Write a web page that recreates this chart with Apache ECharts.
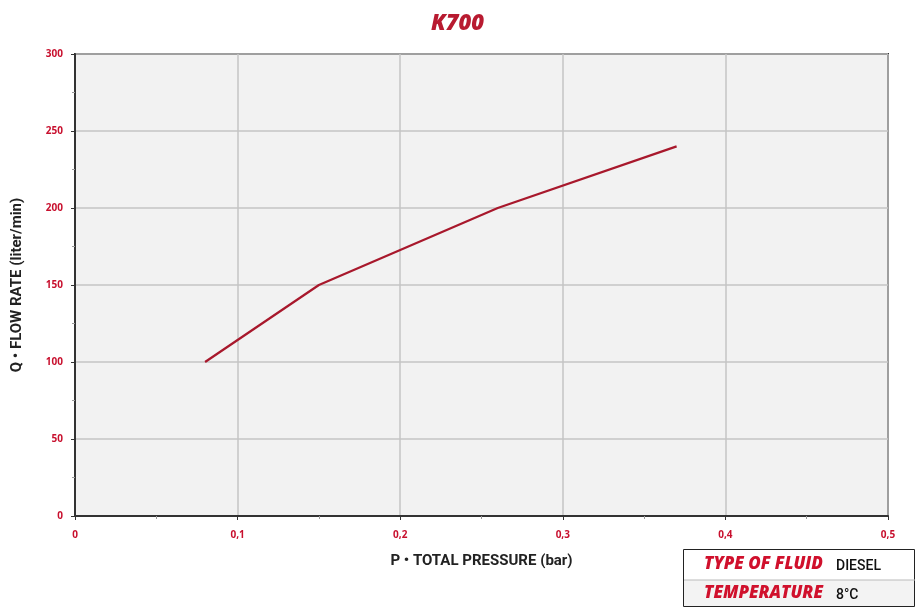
<!DOCTYPE html>
<html>
<head>
<meta charset="utf-8">
<script src="https://cdn.jsdelivr.net/npm/echarts@6/dist/echarts.min.js"></script>
<style>html,body{margin:0;padding:0;background:#fff;}#c{width:915px;height:607px;}</style>
</head>
<body>
<div id="c"></div>
<script>
var titleText = 'K700';
var xName = 'P • TOTAL PRESSURE (bar)';
var yName = 'Q • FLOW RATE (liter/min)';
var pressure = [0.08, 0.15, 0.26, 0.37];
var flowRate = [100, 150, 200, 240];
var infoLabels = ['TYPE OF FLUID', 'TEMPERATURE'];
var infoValues = ['DIESEL', '8°C'];

var seriesData = pressure.map(function (p, i) { return [p, flowRate[i]]; });
var red = '#c8102e';
var chart = echarts.init(document.getElementById('c'));
chart.setOption({
  backgroundColor: '#fff',
  animation: false,
  title: {
    text: titleText, left: 'center', top: 8,
    textStyle: { color: '#b81a30', fontSize: 22, fontWeight: 800, fontStyle: 'italic', fontFamily: 'Open Sans' }
  },
  grid: { left: 75, right: 27, top: 54, bottom: 91, show: true, backgroundColor: '#f2f2f2', borderColor: '#333', borderWidth: 2 },
  xAxis: {
    type: 'value', min: 0, max: 0.5, interval: 0.1,
    name: xName, nameLocation: 'middle', nameGap: 38,
    nameTextStyle: { color: '#222', fontSize: 15, fontFamily: 'Roboto', fontWeight: 'bold' },
    axisLine: { show: true, lineStyle: { color: '#333', width: 2 } },
    axisTick: { show: true, length: 4, lineStyle: { color: '#333' } },
    minorTick: { show: true, splitNumber: 2, length: 3, lineStyle: { color: '#999' } },
    splitLine: { show: true, lineStyle: { color: '#c4c4c4', width: 1.5 } },
    axisLabel: { color: red, fontSize: 10, fontWeight: 'bold', margin: 14, fontFamily: 'Open Sans',
      formatter: function (v) { return v === 0 ? '0' : String(v.toFixed(1)).replace('.', ','); } }
  },
  yAxis: {
    type: 'value', min: 0, max: 300, interval: 50,
    name: yName, nameLocation: 'middle', nameGap: 50,
    nameTextStyle: { color: '#222', fontSize: 15, fontFamily: 'Roboto', fontWeight: 'bold' },
    axisLine: { show: true, lineStyle: { color: '#333', width: 2 } },
    axisTick: { show: true, length: 4, lineStyle: { color: '#333' } },
    minorTick: { show: true, splitNumber: 2, length: 3, lineStyle: { color: '#999' } },
    splitLine: { show: true, lineStyle: { color: '#c4c4c4', width: 1.5 } },
    axisLabel: { color: red, fontSize: 10, fontWeight: 'bold', margin: 12, fontFamily: 'Open Sans' }
  },
  series: [{
    type: 'line', data: seriesData, showSymbol: false, symbol: 'none',
    lineStyle: { color: '#a8182c', width: 2.2 }
  }],
  graphic: [
    { type: 'rect', left: 683, top: 549, shape: { width: 231, height: 57 }, style: { fill: '#fff', stroke: '#222', lineWidth: 1 }, z: 10 },
    { type: 'rect', left: 684, top: 580, shape: { width: 230, height: 26 }, style: { fill: '#f3f3f3' }, z: 11 },
    { type: 'line', shape: { x1: 684, y1: 580, x2: 915, y2: 580 }, style: { stroke: '#bbb', lineWidth: 1 }, z: 12 },
    { type: 'text', left: 704, top: 556, style: { text: infoLabels[0], fill: '#d0102c', font: 'italic 800 17px "Open Sans"' }, z: 12 },
    { type: 'text', left: 836, top: 559, style: { text: infoValues[0], fill: '#111', font: '500 14px Roboto' }, z: 12 },
    { type: 'text', left: 704, top: 585, style: { text: infoLabels[1], fill: '#d0102c', font: 'italic 800 17px "Open Sans"' }, z: 12 },
    { type: 'text', left: 836, top: 588, style: { text: infoValues[1], fill: '#111', font: '500 14px Roboto' }, z: 12 }
  ]
});
</script>
</body>
</html>
